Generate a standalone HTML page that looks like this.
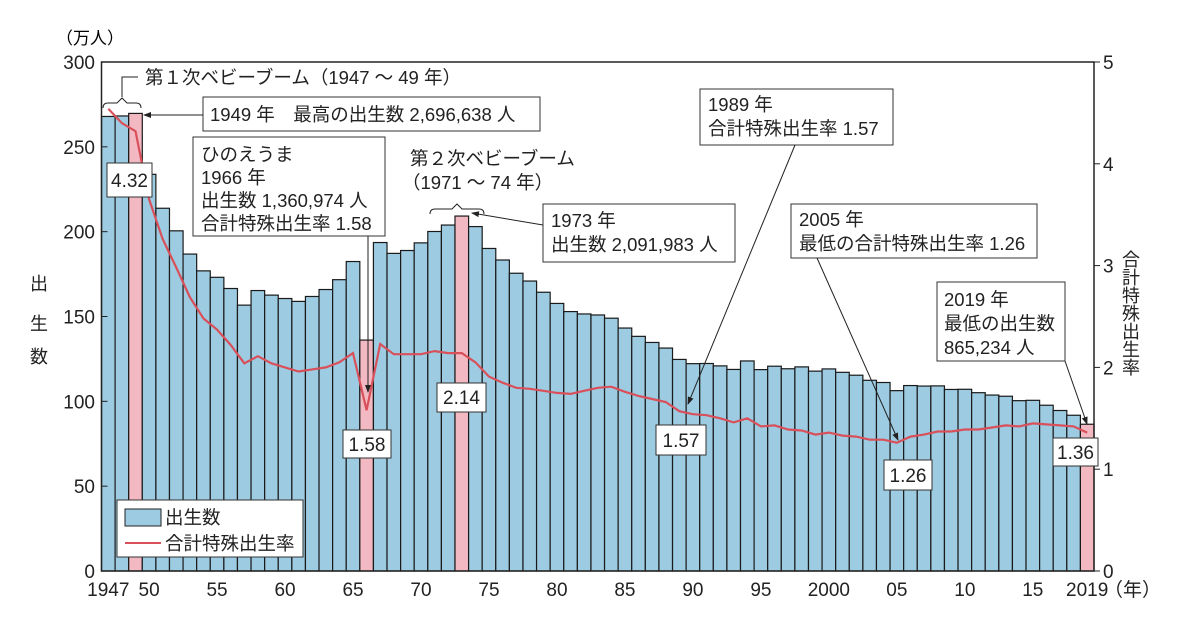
<!DOCTYPE html><html><head><meta charset="utf-8"><style>
body{margin:0;background:#fff;}
svg{display:block;font-family:"Liberation Sans","Noto Sans CJK JP",sans-serif;}
</style></head><body>
<svg id="s" width="1186" height="634" viewBox="0 0 1186 634" xmlns="http://www.w3.org/2000/svg">
<defs><marker id="ar" markerWidth="8" markerHeight="8" refX="7" refY="4" orient="auto" markerUnits="userSpaceOnUse"><path d="M0,1 L8,4 L0,7 Z" fill="#222"/></marker></defs>
<g id="bars"></g>
<polyline id="tfr" fill="none" stroke="#d9505a" stroke-width="2.2"/>
<rect x="101.5" y="62" width="992.5" height="509" fill="none" stroke="#222" stroke-width="1.5"/>
<g id="ticks" font-size="19" fill="#222"></g>
<text x="56" y="44" font-size="17">（万人）</text>
<g font-size="18" fill="#222"><text x="30" y="290">出</text><text x="30" y="330">生</text><text x="30" y="363">数</text></g>
<text font-size="18" fill="#222" style="writing-mode:vertical-rl" x="1130" y="250">合計特殊出生率</text>
<g font-size="18.5" fill="#222">
<path d="M103,108 q0,-5 5,-5 h9 l5,-5 l5,5 h9 q5,0 5,5" fill="none" stroke="#222"/>
<path d="M122,97 V77 H138" fill="none" stroke="#222"/>
<text x="145" y="84">第１次ベビーブーム（1947 ～ 49 年）</text>
<rect x="203" y="97" width="337" height="34" fill="#fff" stroke="#333"/>
<text x="210" y="121">1949 年　最高の出生数 2,696,638 人</text>
<line x1="203" y1="115" x2="144" y2="115" stroke="#222" marker-end="url(#ar)"/>
<rect x="193" y="137" width="192" height="99" fill="#fff" stroke="#333"/>
<text x="201" y="161">ひのえうま</text><text x="201" y="184">1966 年</text><text x="201" y="207">出生数 1,360,974 人</text><text x="201" y="230">合計特殊出生率 1.58</text>
<line x1="368" y1="236" x2="368" y2="392" stroke="#222" marker-end="url(#ar)"/>
<text x="410" y="165">第２次ベビーブーム</text><text x="402" y="189">（1971 ～ 74 年）</text>
<path d="M430,214 q0,-5 5,-5 h17 l5,-5 l5,5 h17 q5,0 5,5" fill="none" stroke="#222"/>
<rect x="543" y="204" width="192" height="58" fill="#fff" stroke="#333"/>
<text x="551" y="227">1973 年</text><text x="551" y="251">出生数 2,091,983 人</text>
<line x1="543" y1="225" x2="472" y2="213" stroke="#222" marker-end="url(#ar)"/>
<rect x="700" y="89" width="193" height="56" fill="#fff" stroke="#333"/>
<text x="708" y="111">1989 年</text><text x="708" y="135">合計特殊出生率 1.57</text>
<line x1="795" y1="145" x2="688" y2="404" stroke="#222" marker-end="url(#ar)"/>
<rect x="791" y="204" width="246" height="54" fill="#fff" stroke="#333"/>
<text x="799" y="226">2005 年</text><text x="799" y="250">最低の合計特殊出生率 1.26</text>
<line x1="817" y1="258" x2="898" y2="440" stroke="#222" marker-end="url(#ar)"/>
<rect x="937" y="282" width="128" height="79" fill="#fff" stroke="#333"/>
<text x="944" y="306">2019 年</text><text x="944" y="330">最低の出生数</text><text x="944" y="354">865,234 人</text>
<line x1="1065" y1="361" x2="1087" y2="424" stroke="#222" marker-end="url(#ar)"/>
</g>
<g font-size="19" fill="#222" text-anchor="middle">
<rect x="107" y="163" width="45" height="34" fill="#fff" stroke="#333"/><text x="129.5" y="187">4.32</text>
<rect x="343" y="430" width="48" height="28" fill="#fff" stroke="#333"/><text x="367" y="451">1.58</text>
<rect x="437" y="383" width="49" height="29" fill="#fff" stroke="#333"/><text x="461.5" y="404">2.14</text>
<rect x="656" y="425" width="50" height="30" fill="#fff" stroke="#333"/><text x="681" y="447">1.57</text>
<rect x="884" y="460" width="48" height="30" fill="#fff" stroke="#333"/><text x="908" y="482">1.26</text>
<rect x="1053" y="438" width="45" height="28" fill="#fff" stroke="#333"/><text x="1075.5" y="459">1.36</text>
</g>
<rect x="117" y="500" width="186" height="57" fill="#fff" stroke="#333"/>
<rect x="125" y="509" width="36" height="17" fill="#9dcbe1" stroke="#222"/>
<line x1="125" y1="543" x2="161" y2="543" stroke="#d9505a" stroke-width="2"/>
<g font-size="18.5" fill="#222"><text x="165" y="524">出生数</text><text x="165" y="550">合計特殊出生率</text></g>
</svg>
<script>
var B=[267.9,268.2,269.7,233.8,213.8,200.5,186.8,176.9,173.1,166.5,156.7,165.3,162.6,160.6,158.9,161.8,165.9,171.7,182.4,136.1,193.6,187.2,188.9,193.4,200.1,203.9,209.2,203.0,190.1,183.3,175.5,170.9,164.3,157.7,152.9,151.5,150.9,149.0,143.2,138.3,134.7,131.4,124.7,122.2,122.3,120.9,118.8,123.8,118.7,120.7,119.2,120.3,117.8,119.1,117.1,115.4,112.4,111.1,106.3,109.3,109.0,109.1,107.0,107.1,105.1,103.7,103.0,100.4,100.6,97.7,94.6,91.8,86.5];
var T=[4.54,4.40,4.32,3.65,3.26,2.98,2.69,2.48,2.37,2.22,2.04,2.11,2.04,2.00,1.96,1.98,2.00,2.05,2.14,1.58,2.23,2.13,2.13,2.13,2.16,2.14,2.14,2.05,1.91,1.85,1.80,1.79,1.77,1.75,1.74,1.77,1.80,1.81,1.76,1.72,1.69,1.66,1.57,1.54,1.53,1.50,1.46,1.50,1.42,1.43,1.39,1.38,1.34,1.36,1.33,1.32,1.29,1.29,1.26,1.32,1.34,1.37,1.37,1.39,1.39,1.41,1.43,1.42,1.45,1.44,1.43,1.42,1.36];
var NS="http://www.w3.org/2000/svg",L=101.5,W=992.5/73,Y0=571,H=509;
function el(t,a,p,tx){var e=document.createElementNS(NS,t);for(var k in a)e.setAttribute(k,a[k]);if(tx)e.textContent=tx;p.appendChild(e);return e;}
var g=document.getElementById('bars'),pts=[];
var pink={1949:1,1966:1,1973:1,2019:1};
for(var i=0;i<73;i++){var y=1947+i,h=B[i]/300*H;
el('rect',{x:L+i*W,y:Y0-h,width:W,height:h,fill:pink[y]?'#f2b9c2':'#9dcbe1',stroke:'#1a1a1a','stroke-width':1.2},g);
pts.push((L+(i+0.5)*W).toFixed(1)+','+(Y0-T[i]/5*H).toFixed(1));}
document.getElementById('tfr').setAttribute('points',pts.join(' '));
var tk=document.getElementById('ticks');
for(var v=0;v<=300;v+=50){var yy=Y0-v/300*H;el('line',{x1:L,x2:L+6,y1:yy,y2:yy,stroke:'#222'},tk);el('text',{x:95,y:yy+7,'text-anchor':'end'},tk,''+v);}
for(var v=0;v<=5;v++){var yy=Y0-v/5*H;el('line',{x1:1094,x2:1100,y1:yy,y2:yy,stroke:'#222'},tk);el('text',{x:1103,y:yy+7},tk,''+v);}
var labs={1947:'1947',1950:'50',1955:'55',1960:'60',1965:'65',1970:'70',1975:'75',1980:'80',1985:'85',1990:'90',1995:'95',2000:'2000',2005:'05',2010:'10',2015:'15',2019:'2019'};
for(var y in labs){var i=y-1947;el('text',{x:L+(i+0.5)*W,y:596,'text-anchor':'middle'},tk,labs[y]);}
el('text',{x:1104,y:596},tk,'（年）');
</script>
</body></html>
